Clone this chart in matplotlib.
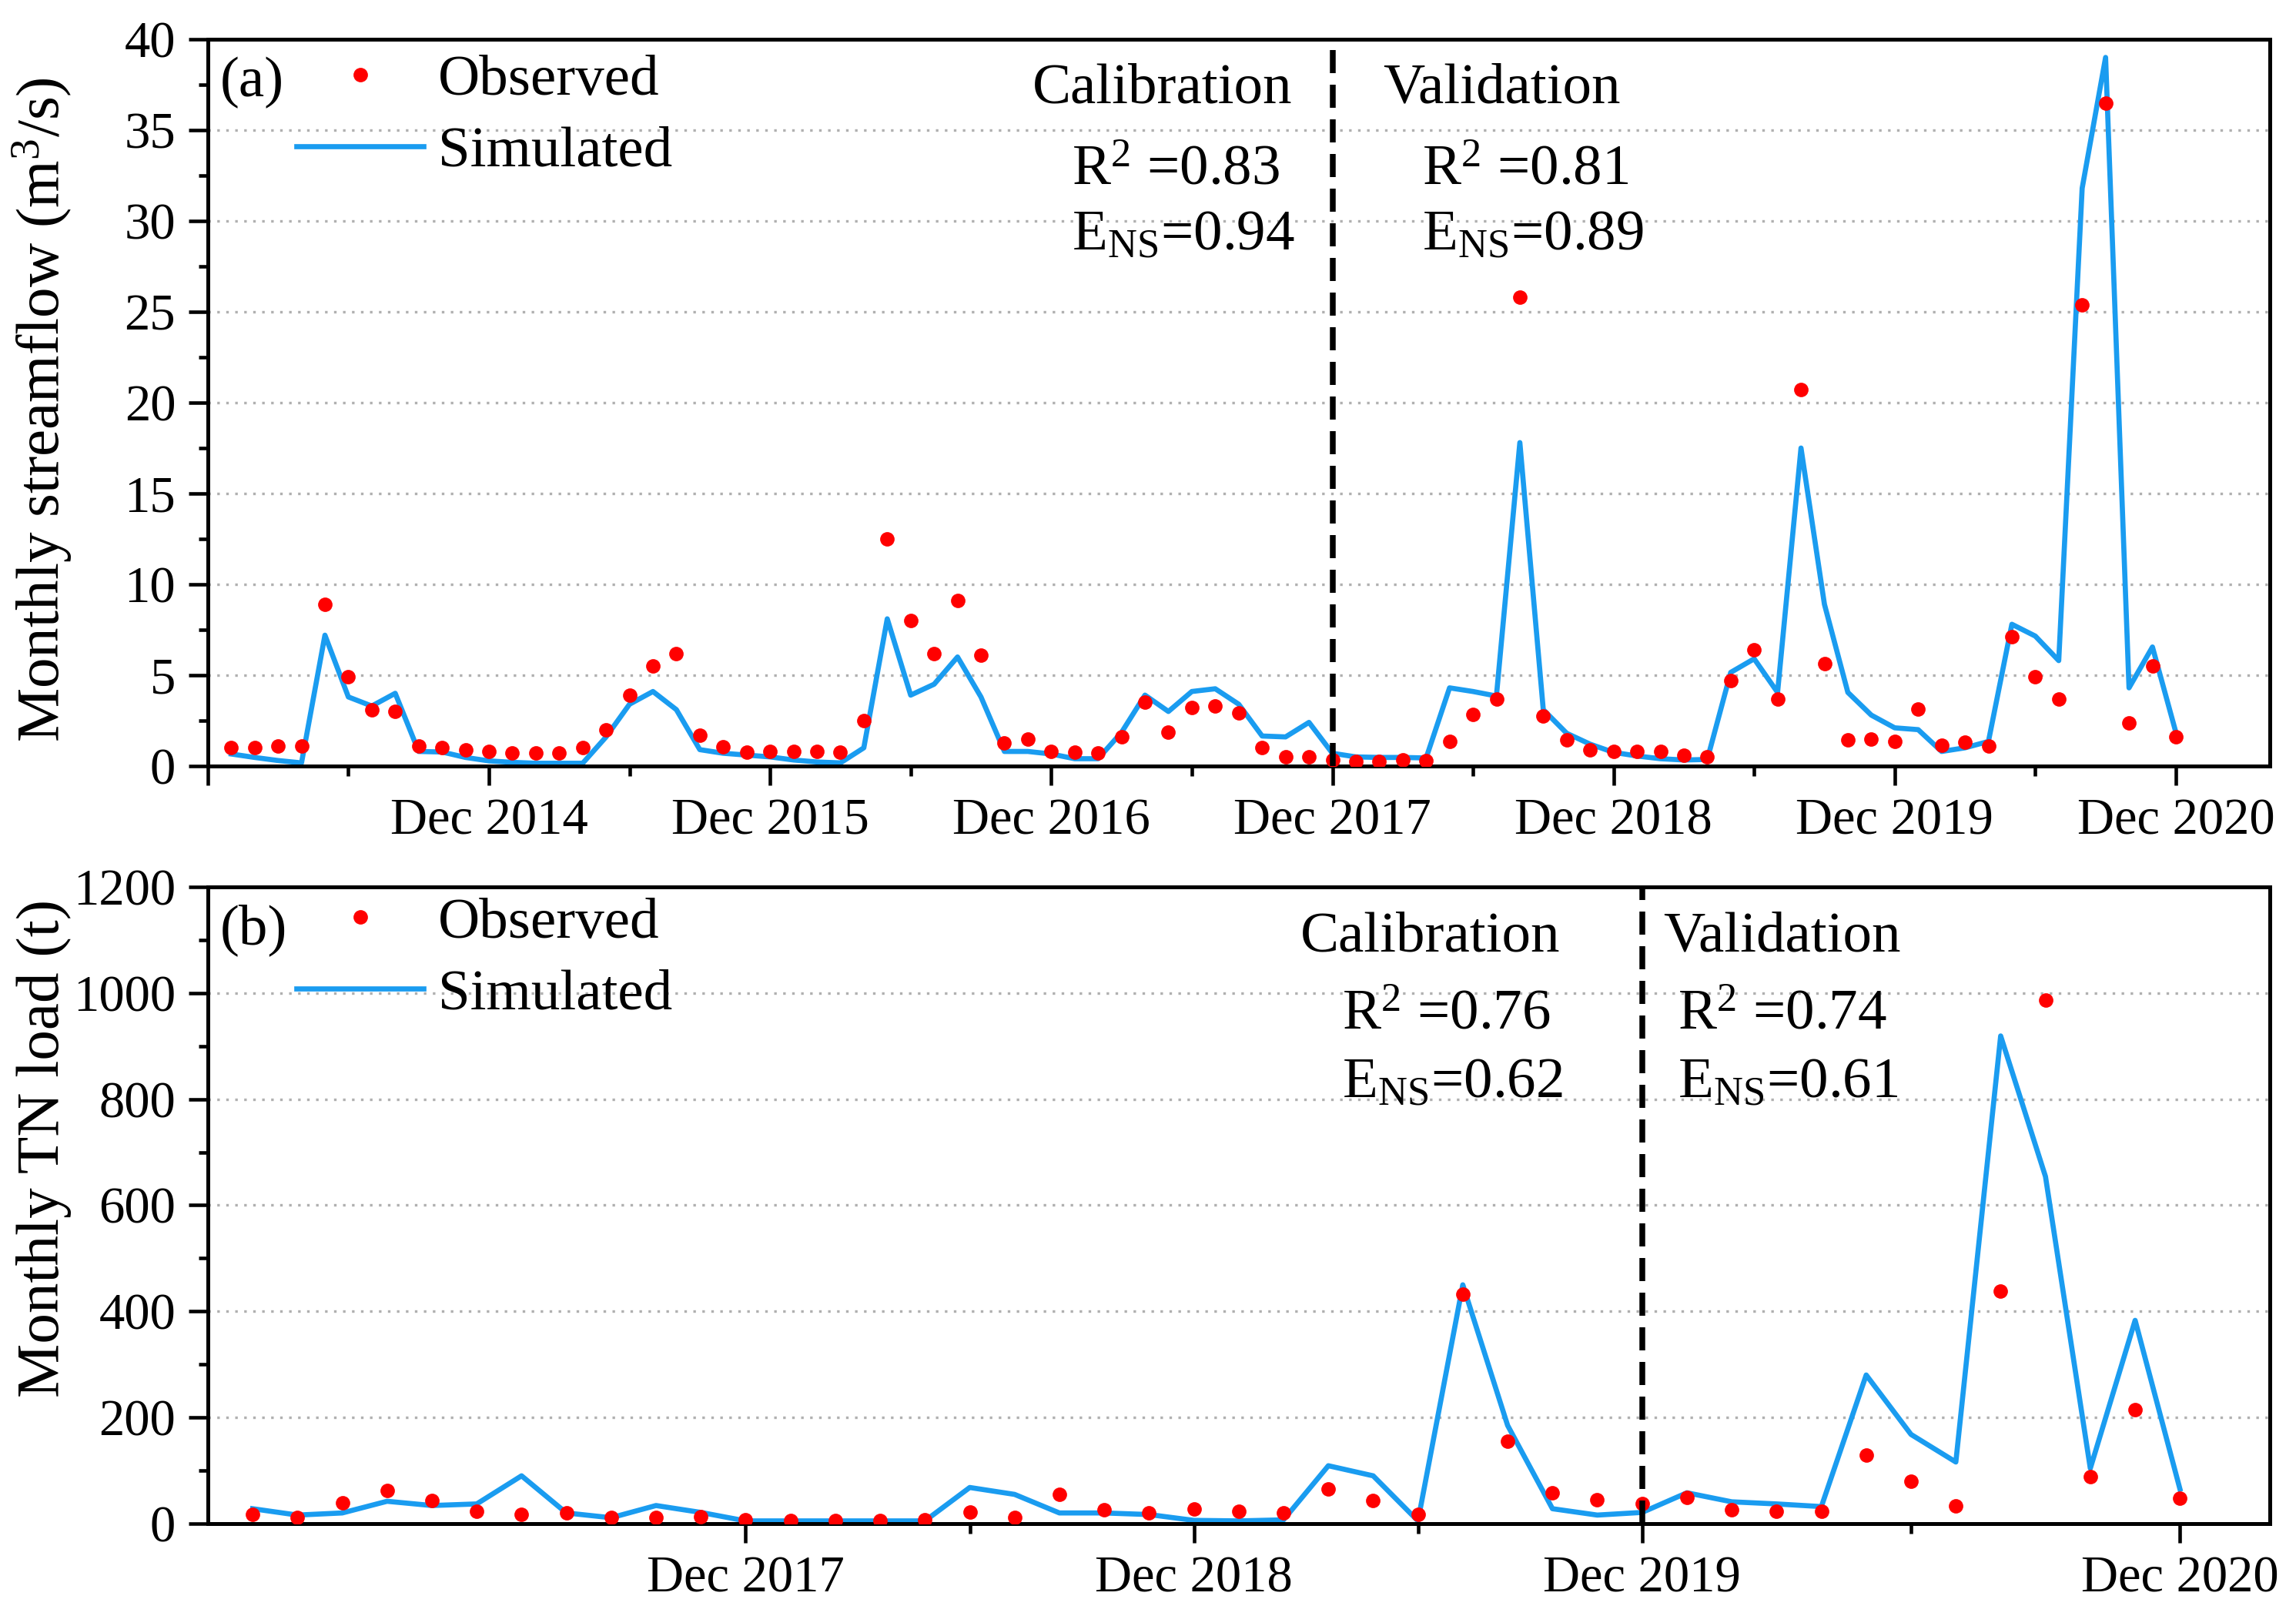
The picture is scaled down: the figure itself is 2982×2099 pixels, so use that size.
import numpy as np
import matplotlib
matplotlib.use('Agg')
import matplotlib.pyplot as plt
from matplotlib.ticker import MultipleLocator

plt.rcParams['font.family'] = ['Liberation Serif', 'DejaVu Serif']
plt.rcParams['mathtext.fontset'] = 'custom'
plt.rcParams['mathtext.rm'] = 'Liberation Serif'
plt.rcParams['mathtext.it'] = 'Liberation Serif:italic'

# monthly streamflow, Jan 2014 - Dec 2020 (m3/s)
obs_flow = [1.0, 1.0, 1.1, 1.1, 8.9, 4.9, 3.1, 3.0, 1.1, 1.0, 0.9, 0.8,
            0.7, 0.7, 0.7, 1.0, 2.0, 3.9, 5.5, 6.2, 1.7, 1.05, 0.75, 0.8,
            0.8, 0.8, 0.75, 2.5, 12.5, 8.0, 6.2, 9.1, 6.1, 1.25, 1.5, 0.8,
            0.75, 0.7, 1.6, 3.5, 1.85, 3.2, 3.3, 2.9, 1.0, 0.5, 0.5, 0.33,
            0.25, 0.25, 0.33, 0.28, 1.35, 2.85, 3.7, 25.8, 2.75, 1.45, 0.9, 0.8,
            0.8, 0.8, 0.6, 0.5, 4.7, 6.4, 3.7, 20.7, 5.65, 1.45, 1.5, 1.35,
            3.15, 1.15, 1.3, 1.1, 7.1, 4.9, 3.7, 25.4, 36.5, 2.35, 5.5, 1.6]
sim_flow = [0.66, 0.47, 0.3, 0.17, 7.2, 3.8, 3.3, 4.0, 0.8, 0.77, 0.47, 0.28,
            0.2, 0.15, 0.15, 0.15, 1.6, 3.4, 4.1, 3.1, 0.9, 0.7, 0.6, 0.5,
            0.33, 0.22, 0.17, 1.0, 8.1, 3.9, 4.5, 6.0, 3.8, 0.8, 0.8, 0.66,
            0.4, 0.4, 1.85, 3.9, 3.0, 4.1, 4.25, 3.4, 1.65, 1.6, 2.4, 0.7,
            0.5, 0.47, 0.47, 0.44, 4.3, 4.1, 3.85, 17.8, 3.1, 1.8, 1.2, 0.75,
            0.55, 0.4, 0.33, 0.36, 5.15, 5.9, 4.05, 17.5, 8.9, 4.05, 2.8, 2.1,
            2.0, 0.8, 1.0, 1.35, 7.8, 7.15, 5.8, 31.8, 39.0, 4.3, 6.55, 1.85]
flow_ticks = [-1, 11, 23, 35, 47, 59, 71, 83]
flow_labels = ['', 'Dec 2014', 'Dec 2015', 'Dec 2016', 'Dec 2017',
               'Dec 2018', 'Dec 2019', 'Dec 2020']
flow_minor = [5, 17, 29, 41, 53, 65, 77]
flow_split = 47

# monthly TN load (t)
obs_tn = [17, 11, 39, 62, 43, 23, 18, 20, 11, 11, 13,
          7, 6, 6, 5, 7, 21, 11, 55, 26, 20, 27,
          23, 20, 65, 43, 17, 432, 155, 58, 45, 37, 49,
          26, 23, 23, 129, 79, 34, 438, 986, 88, 214, 48]
sim_tn = [28, 16, 20, 42, 34, 37, 90, 20, 11, 34, 21,
          5, 5, 5, 5, 5, 68, 55, 20, 20, 17, 6,
          5, 7, 109, 90, 5, 450, 185, 28, 16, 21, 58,
          41, 37, 32, 280, 168, 116, 919, 654, 104, 383, 65]
tn_ticks = [11, 21, 31, 43]
tn_labels = ['Dec 2017', 'Dec 2018', 'Dec 2019', 'Dec 2020']
tn_minor = [16, 26, 37]
tn_split = 31

RED = '#ff0000'
BLUE = '#1a9cf0'

fig = plt.figure(figsize=(9.94, 6.9967), dpi=300)
ax1 = fig.add_axes([0.0905, 0.526, 0.898, 0.4497])
ax2 = fig.add_axes([0.0905, 0.0572, 0.898, 0.394])


def style_axis(ax):
    for s in ax.spines.values():
        s.set_linewidth(1.2)
    ax.tick_params(which='major', direction='out', length=6, width=1.1,
                   labelsize=16, pad=4)
    ax.tick_params(which='minor', direction='out', length=3, width=1.1)
    ax.yaxis.grid(True, which='major', linestyle=(0, (1, 2.5)),
                  color='#b0b0b0', lw=0.8)
    ax.set_axisbelow(True)


def draw_panel(ax, obs, sim, tag, tag_y, leg_y):
    x = np.arange(len(obs))
    ax.plot(x, obs, 'o', color=RED, ms=4.5, mec='none', label='Observed',
            zorder=3)
    ax.plot(x, sim, '-', color=BLUE, lw=1.6, label='Simulated', zorder=2)
    ax.text(0.006, tag_y, tag, transform=ax.transAxes, fontsize=18,
            va='center', ha='left')
    ax.legend(loc='upper left', bbox_to_anchor=(0.043, leg_y), frameon=False,
              fontsize=18, handlelength=2.2, handletextpad=0.25,
              labelspacing=0.32, borderpad=0, borderaxespad=0)


def stats(ax, x_cal, x_cal2, x_val, x_val2, ys, cal, val):
    kw = dict(transform=ax.transAxes, fontsize=18, va='baseline')
    ax.text(x_cal, ys[0], 'Calibration', ha='right', **kw)
    ax.text(x_cal2, ys[1], r'R$^{2}$ =' + cal[0], ha='left', **kw)
    ax.text(x_cal2, ys[2], r'E$_{\mathrm{NS}}$=' + cal[1], ha='left', **kw)
    ax.text(x_val, ys[0], 'Validation', ha='left', **kw)
    ax.text(x_val2, ys[1], r'R$^{2}$ =' + val[0], ha='left', **kw)
    ax.text(x_val2, ys[2], r'E$_{\mathrm{NS}}$=' + val[1], ha='left', **kw)


# (a) streamflow
style_axis(ax1)
draw_panel(ax1, obs_flow, sim_flow, '(a)', 0.94, 0.979)
ax1.axvline(flow_split, color='black', lw=1.8, linestyle=(0, (4, 2)), zorder=4)
ax1.set_xlim(-1, 87)
ax1.set_ylim(0, 40)
ax1.yaxis.set_major_locator(MultipleLocator(5))
ax1.yaxis.set_minor_locator(MultipleLocator(2.5))
ax1.set_xticks(flow_ticks)
ax1.set_xticklabels(flow_labels)
ax1.set_xticks(flow_minor, minor=True)
ax1.set_ylabel('Monthly streamflow (m$^{3}$/s)', fontsize=19)
ax1.yaxis.set_label_coords(-0.065, 0.49)
stats(ax1, 0.526, 0.419, 0.570, 0.589, [0.913, 0.800, 0.710],
      ('0.83', '0.94'), ('0.81', '0.89'))

# (b) TN load
style_axis(ax2)
draw_panel(ax2, obs_tn, sim_tn, '(b)', 0.932, 0.984)
ax2.axvline(tn_split, color='black', lw=1.8, linestyle=(0, (4, 2)), zorder=4)
ax2.set_xlim(-1, 45)
ax2.set_ylim(0, 1200)
ax2.yaxis.set_major_locator(MultipleLocator(200))
ax2.yaxis.set_minor_locator(MultipleLocator(100))
ax2.set_xticks(tn_ticks)
ax2.set_xticklabels(tn_labels)
ax2.set_xticks(tn_minor, minor=True)
ax2.set_ylabel('Monthly TN load (t)', fontsize=19)
ax2.yaxis.set_label_coords(-0.066, 0.59)
stats(ax2, 0.656, 0.550, 0.706, 0.713, [0.899, 0.777, 0.669],
      ('0.76', '0.62'), ('0.74', '0.61'))

fig.savefig('out.png', dpi=300)
